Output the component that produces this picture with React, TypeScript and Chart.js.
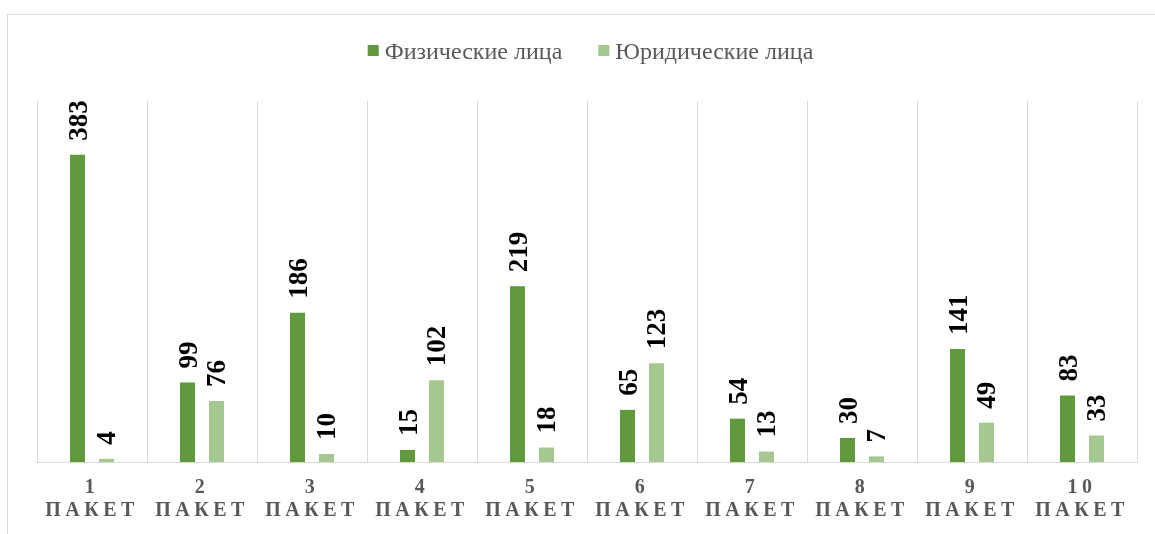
import React, { useEffect, useRef } from "react";
import { Chart, registerables } from "chart.js";

Chart.register(...registerables);

const categories = ["1", "2", "3", "4", "5", "6", "7", "8", "9", "10"];
const tickWord = "ПАКЕТ";
const seriesNames = ["Физические лица", "Юридические лица"];
const physical = [383, 99, 186, 15, 219, 65, 54, 30, 141, 83];
const legal = [4, 76, 10, 102, 18, 123, 13, 7, 49, 33];
const yMax = 450;

const SERIF = "'Liberation Serif', 'Times New Roman', serif";

const barLabels = {
  id: "barLabels",
  afterDatasetsDraw(chart: any) {
    const ctx = chart.ctx;
    ctx.save();
    ctx.font = `bold 27px ${SERIF}`;
    ctx.fillStyle = "#000000";
    ctx.textAlign = "left";
    ctx.textBaseline = "alphabetic";
    chart.data.datasets.forEach((ds: any, di: number) => {
      const meta = chart.getDatasetMeta(di);
      meta.data.forEach((bar: any, i: number) => {
        ctx.save();
        ctx.translate(bar.x + 9, bar.y - 14);
        ctx.rotate(-Math.PI / 2);
        ctx.fillText(String(ds.data[i]), 0, 0);
        ctx.restore();
      });
    });
    ctx.restore();
  },
};

const xLabels = {
  id: "xLabels",
  afterDraw(chart: any) {
    const ctx = chart.ctx;
    const xs = chart.scales.x;
    ctx.save();
    ctx.font = `bold 20px ${SERIF}`;
    ctx.fillStyle = "#595959";
    ctx.textAlign = "center";
    ctx.textBaseline = "middle";
    try {
      (ctx as any).letterSpacing = "4.5px";
    } catch (e) {}
    const base = chart.chartArea.bottom;
    categories.forEach((c, i) => {
      const x = xs.getPixelForTick(i);
      ctx.fillText(c, x, base + 26);
      ctx.fillText(tickWord, x, base + 49);
    });
    ctx.restore();
  },
};

const customLegend = {
  id: "customLegend",
  afterDraw(chart: any) {
    const ctx = chart.ctx;
    ctx.save();
    ctx.font = `24px ${SERIF}`;
    ctx.textBaseline = "alphabetic";
    ctx.textAlign = "left";
    const box = 11;
    const gap = 6;
    const between = 36;
    const items = chart.data.datasets.map((ds: any) => ({
      text: ds.label,
      color: ds.backgroundColor,
      w: ctx.measureText(ds.label).width,
    }));
    const total =
      items.reduce((s: number, it: any) => s + box + gap + it.w, 0) +
      between * (items.length - 1);
    const center = chart.width / 2 + 13;
    let x = center - total / 2;
    const baseline = 59;
    items.forEach((it: any) => {
      ctx.fillStyle = it.color;
      ctx.fillRect(x, 45, box, box);
      ctx.fillStyle = "#595959";
      ctx.fillText(it.text, x + box + gap, baseline);
      x += box + gap + it.w + between;
    });
    ctx.restore();
  },
};

export default function App() {
  const ref = useRef<HTMLCanvasElement | null>(null);
  useEffect(() => {
    if (!ref.current) return;
    const chart = new Chart(ref.current, {
      type: "bar",
      data: {
        labels: categories,
        datasets: [
          {
            label: seriesNames[0],
            data: physical,
            backgroundColor: "#609A3C",
            borderWidth: 0,
            categoryPercentage: 0.527,
            barPercentage: 0.517,
          },
          {
            label: seriesNames[1],
            data: legal,
            backgroundColor: "#A5C890",
            borderWidth: 0,
            categoryPercentage: 0.527,
            barPercentage: 0.517,
          },
        ],
      },
      options: {
        responsive: false,
        animation: false,
        layout: { padding: { left: 37, right: 18, top: 101, bottom: 72 } },
        plugins: {
          legend: { display: false },
          tooltip: { enabled: false },
        },
        scales: {
          x: {
            grid: { color: "#d9d9d9", lineWidth: 1, drawTicks: false, offset: true },
            border: { color: "#d9d9d9", width: 1 },
            ticks: { display: false },
          },
          y: {
            display: false,
            min: 0,
            max: yMax,
            grid: { display: false },
          },
        },
      },
      plugins: [barLabels, xLabels, customLegend],
    });
    return () => chart.destroy();
  }, []);

  return (
    <div
      style={{
        position: "fixed",
        left: 0,
        top: 0,
        width: 1155,
        height: 534,
        overflow: "hidden",
        background: "#ffffff",
      }}
    >
      <div
        style={{
          position: "absolute",
          left: 7,
          top: 14,
          width: 1170,
          height: 600,
          border: "1px solid #d9d9d9",
          boxSizing: "border-box",
        }}
      />
      <canvas
        ref={ref}
        width={1155}
        height={534}
        style={{ position: "absolute", left: 0, top: 0, width: 1155, height: 534 }}
      />
    </div>
  );
}
